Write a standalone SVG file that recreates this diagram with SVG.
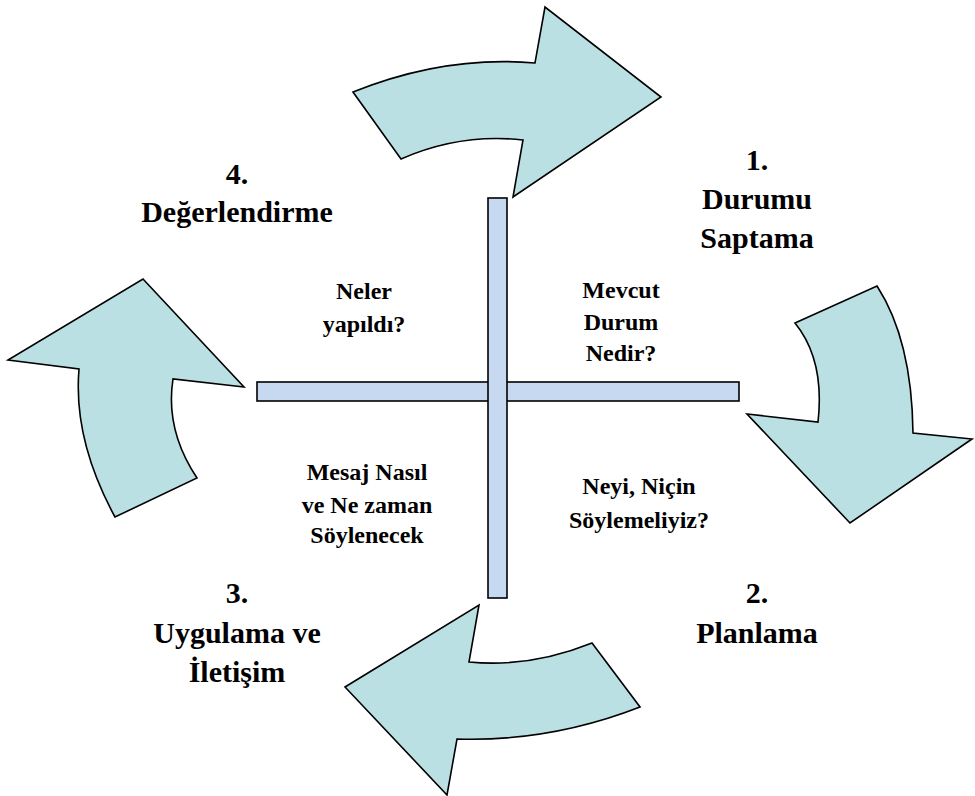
<svg xmlns="http://www.w3.org/2000/svg" width="975" height="796" viewBox="0 0 975 796">
<style>
.arrow{fill:#bae0e3;stroke:#000;stroke-width:1.6;stroke-linejoin:miter}
.bar{fill:#c6d9f1;stroke:#000;stroke-width:1.6}
text{font-family:'Times New Roman','Liberation Serif','DejaVu Serif',serif;font-weight:bold;text-anchor:middle;fill:#000}
.big{font-size:30px}
.small{font-size:24px}
</style>
<rect width="975" height="796" fill="#fff"/>
<g id="connectors">
<path id="arrow-top" class="arrow" d="M353,92 Q445,55 535,63 L545,7 L661,97 L513,197 L523,140 Q460,133 401,159 Z"/>
<path id="arrow-right" class="arrow" d="M795,323 L877,286 Q912,340 913,433 L972,439 L850,523 L747,414 L818,422 Q825,360 795,323 Z"/>
<path id="arrow-bottom" class="arrow" d="M592,643 Q530,668 469,662 L479,605 L345,687 L447,795 L457,739 Q550,742 640,707 Z"/>
<path id="arrow-left" class="arrow" d="M143,279 L244,387 L173,379 Q165,430 197,478 L115,517 Q73,440 79,369 L8,360 Z"/>
</g>
<g id="cross">
<rect class="bar" x="257" y="382" width="482" height="19"/>
<rect class="bar" x="488" y="198" width="19" height="400"/>
</g>
<g id="step1">
<text class="big" x="757" y="170">1.</text>
<text class="big" x="757" y="209">Durumu</text>
<text class="big" x="757" y="248">Saptama</text>
</g>
<g id="step2">
<text class="big" x="757" y="603">2.</text>
<text class="big" x="757" y="643">Planlama</text>
</g>
<g id="step3">
<text class="big" x="237" y="603">3.</text>
<text class="big" x="237" y="643">Uygulama ve</text>
<text class="big" x="237" y="682">İletişim</text>
</g>
<g id="step4">
<text class="big" x="237" y="184">4.</text>
<text class="big" x="237" y="222">Değerlendirme</text>
</g>
<g id="q1">
<text class="small" x="621" y="298">Mevcut</text>
<text class="small" x="621" y="330">Durum</text>
<text class="small" x="621" y="361">Nedir?</text>
</g>
<g id="q2">
<text class="small" x="639" y="494">Neyi, Niçin</text>
<text class="small" x="639" y="528">Söylemeliyiz?</text>
</g>
<g id="q3">
<text class="small" x="367" y="480">Mesaj Nasıl</text>
<text class="small" x="367" y="513">ve Ne zaman</text>
<text class="small" x="367" y="543">Söylenecek</text>
</g>
<g id="q4">
<text class="small" x="364" y="299">Neler</text>
<text class="small" x="364" y="332">yapıldı?</text>
</g>
</svg>
